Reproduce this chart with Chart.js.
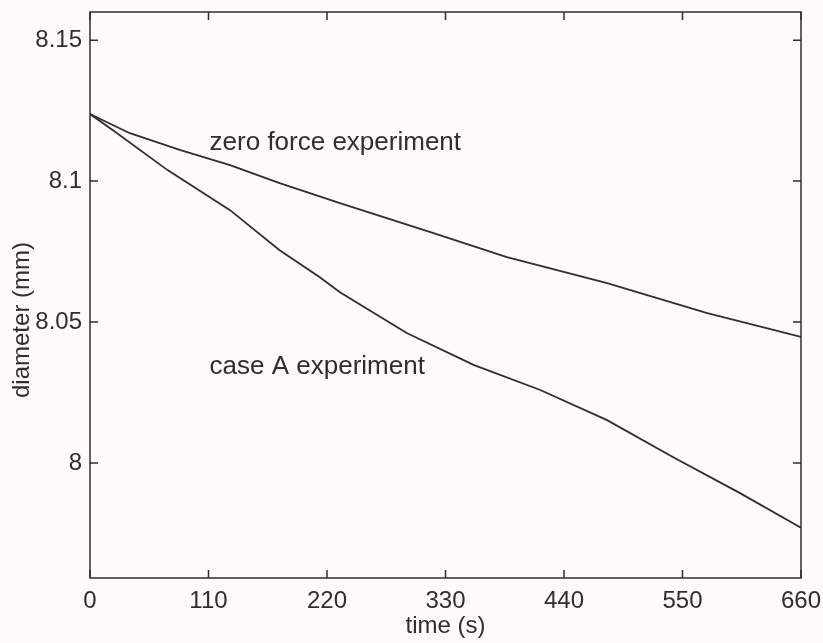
<!DOCTYPE html>
<html>
<head>
<meta charset="utf-8">
<script src="https://cdn.jsdelivr.net/npm/chart.js@4"></script>
<style>
  html, body { margin: 0; padding: 0; background: #fcfbf7; }
  #wrap { width: 823px; height: 643px; }
</style>
</head>
<body>
<div id="wrap"><canvas id="chart" width="823" height="643"></canvas></div>
<script>
// values
const zeroTimes = [0, 37, 84, 130, 176, 232, 316, 387, 480, 573, 660];
const zeroForce = [8.1238, 8.117, 8.111, 8.1057, 8.0993, 8.0922, 8.0819, 8.073, 8.0638, 8.0532, 8.0447];
const caseATimes = [0, 21, 72, 130, 176, 213, 232, 294, 356, 418, 480, 541, 603, 660];
const caseA = [8.1238, 8.1181, 8.1039, 8.0897, 8.0755, 8.066, 8.0606, 8.0461, 8.0348, 8.0259, 8.0152, 8.0021, 7.9894, 7.977];
const xTicks = [0, 110, 220, 330, 440, 550, 660];
const yTicks = [8, 8.05, 8.1, 8.15];
const yTickLabels = ["8", "8.05", "8.1", "8.15"];

const ink = "#302e2c";
const font = "'Liberation Sans', Arial, sans-serif";

//--------------------------------------------------------
function toPoints(xs, ys) {
  return xs.map((x, i) => ({ x: x, y: ys[i] }));
}

// paper background
const paper = {
  id: "paper",
  beforeDraw(chart) {
    const c = chart.ctx;
    c.save();
    c.fillStyle = "#fcfbf7";
    c.fillRect(0, 0, chart.width, chart.height);
    c.restore();
  },
};

// box, inward ticks on all four sides, and the text labels
const frame = {
  id: "frame",
  afterDraw(chart) {
    const c = chart.ctx;
    const a = chart.chartArea;
    const xs = chart.scales.x;
    const ys = chart.scales.y;
    const tl = 8;
    c.save();
    c.strokeStyle = ink;
    c.lineWidth = 1.5;
    c.strokeRect(a.left, a.top, a.right - a.left, a.bottom - a.top);
    c.beginPath();
    xTicks.forEach((t) => {
      const px = xs.getPixelForValue(t);
      c.moveTo(px, a.bottom);
      c.lineTo(px, a.bottom - tl);
      c.moveTo(px, a.top);
      c.lineTo(px, a.top + tl);
    });
    yTicks.forEach((t) => {
      const py = ys.getPixelForValue(t);
      c.moveTo(a.left, py);
      c.lineTo(a.left + tl, py);
      c.moveTo(a.right, py);
      c.lineTo(a.right - tl, py);
    });
    c.stroke();

    c.fillStyle = ink;
    c.font = "26px " + font;
    c.textAlign = "left";
    c.textBaseline = "alphabetic";
    c.fillText("zero force experiment", xs.getPixelForValue(111), ys.getPixelForValue(8.111));
    c.fillText("case A experiment", xs.getPixelForValue(111), ys.getPixelForValue(8.0316));

    // y axis title, sits a little below the centre as in the scan
    c.font = "24px " + font;
    c.translate(29, 320);
    c.rotate(-Math.PI / 2);
    c.textAlign = "center";
    c.fillText("diameter (mm)", 0, 0);
    c.restore();
  },
};

const ctx = document.getElementById("chart");
new Chart(ctx, {
  type: "line",
  data: {
    datasets: [
      { label: "zero force experiment", data: toPoints(zeroTimes, zeroForce) },
      { label: "case A experiment", data: toPoints(caseATimes, caseA) },
    ],
  },
  options: {
    responsive: false,
    animation: false,
    elements: {
      line: { borderColor: ink, borderWidth: 1.8, tension: 0 },
      point: { radius: 0 },
    },
    layout: { padding: { top: 12, right: 22, left: 0, bottom: 0 } },
    plugins: { legend: { display: false }, tooltip: { enabled: false } },
    scales: {
      x: {
        type: "linear",
        min: 0,
        max: 660,
        afterBuildTicks: (s) => { s.ticks = xTicks.map((v) => ({ value: v })); },
        afterFit: (s) => {
          s.height = 65;
          s.paddingLeft = 0;
          s.paddingRight = 0;
        },
        grid: { display: false, drawTicks: false },
        border: { display: false },
        ticks: { color: ink, font: { family: font, size: 24 }, padding: 9, maxRotation: 0 },
        title: {
          display: true,
          text: "time (s)",
          color: ink,
          font: { family: font, size: 24 },
          padding: { top: 0, bottom: 2 },
        },
      },
      y: {
        type: "linear",
        min: 7.9592,
        max: 8.16,
        afterBuildTicks: (s) => { s.ticks = yTicks.map((v) => ({ value: v })); },
        afterFit: (s) => {
          s.width = 90;
          s.paddingTop = 0;
          s.paddingBottom = 0;
        },
        grid: { display: false, drawTicks: false },
        border: { display: false },
        ticks: {
          color: ink,
          font: { family: font, size: 24 },
          padding: 8,
          callback: (v) => yTickLabels[yTicks.indexOf(v)],
        },
      },
    },
  },
  plugins: [paper, frame],
});
</script>
</body>
</html>
